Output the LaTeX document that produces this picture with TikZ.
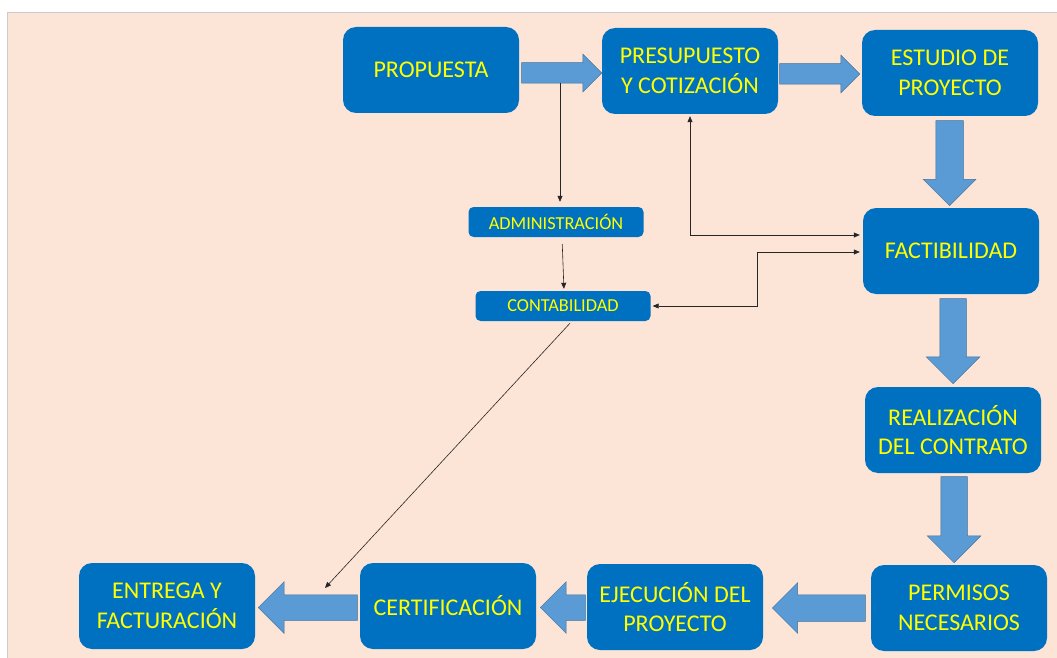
\documentclass[tikz,border=0pt]{standalone}
\usepackage{fontspec}
\setmainfont{Carlito}
\usetikzlibrary{arrows.meta}
\usetikzlibrary{calc}
\usetikzlibrary{shapes.arrows}
\usetikzlibrary{positioning}
\definecolor{fondoPeach}{RGB}{252,228,214}
\definecolor{cajaAzul}{RGB}{0,112,192}
\definecolor{flechaAzul}{RGB}{91,155,213}
\definecolor{flechaBorde}{RGB}{65,113,156}
\definecolor{textoAmarillo}{RGB}{255,255,0}
\tikzset{
  caja/.style = {rounded corners=13pt, fill=cajaAzul, text=textoAmarillo, align=center,
                 minimum width=176pt, minimum height=86pt, inner sep=0pt,
                 font=\fontsize{24}{29.5}\selectfont},
  cajita/.style = {rounded corners=5pt, fill=cajaAzul, text=textoAmarillo, align=center,
                 minimum width=175pt, minimum height=30pt, inner sep=0pt,
                 font=\fontsize{18.3}{22}\selectfont},
  flecha/.style = {single arrow, fill=flechaAzul, draw=flechaBorde, line width=0.5pt,
                 inner xsep=0pt, single arrow tip angle=90, anchor=tip},
  delgada/.style = {line width=0.6pt, draw=black!85,
                 arrows={-Triangle[length=6pt,width=5pt]}},
  doble/.style = {line width=0.6pt, draw=black!85,
                 arrows={Triangle[length=6pt,width=5pt]-Triangle[length=6pt,width=5pt]}}
}

\begin{document}
\begin{tikzpicture}[x=1pt, y=-1pt]

  \useasboundingbox (0,0) rectangle (1057,658);
  \fill[white] (0,0) rectangle (1057,658);
  \draw[fill=fondoPeach, draw=black!20] (7,12) rectangle (1060,661);

  % top row
  \node[caja] (propuesta) at (431,70) {PROPUESTA};
  \node[caja] (presupuesto) at (690,71) {PRESUPUESTO\\Y COTIZACIÓN};
  \node[caja] (estudio) at (950,73) {ESTUDIO DE\\PROYECTO};

  % right column
  \node[caja] (factibilidad) at (951,251) {FACTIBILIDAD};
  \node[caja] (contrato) at (953,430) {REALIZACIÓN\\DEL CONTRATO};
  \node[caja] (permisos) at (959,608) {PERMISOS\\NECESARIOS};

  % bottom row
  \node[caja] (ejecucion) at (675,607) {EJECUCIÓN DEL\\PROYECTO};
  \node[caja] (certificacion) at (448,606) {CERTIFICACIÓN};
  \node[caja] (entrega) at (167,606) {ENTREGA Y\\FACTURACIÓN};

  % middle
  \node[cajita] (administracion) at (556,222) {ADMINISTRACIÓN};
  \node[cajita] (contabilidad) at (563,306) {CONTABILIDAD};

  % block arrows (placed by their tips)
  \node[flecha, minimum height=80pt, inner ysep=10pt, single arrow head extend=8.5pt]
    (f1) at (602,73) {};
  \node[flecha, minimum height=80pt, inner ysep=10pt, single arrow head extend=8.5pt]
    (f2) at (860,74) {};
  \node[flecha, minimum height=85pt, inner ysep=13.5pt, single arrow head extend=12.5pt, rotate=-90]
    (f3) at (949.5,206) {};
  \node[flecha, minimum height=85pt, inner ysep=13pt, single arrow head extend=13.5pt, rotate=-90]
    (f4) at (953,384) {};
  \node[flecha, minimum height=86pt, inner ysep=13pt, single arrow head extend=13.5pt, rotate=-90]
    (f5) at (954,563) {};
  \node[flecha, minimum height=93pt, inner ysep=13pt, single arrow head extend=12pt, rotate=180]
    (f6) at (772,608) {};
  \node[flecha, minimum height=45pt, inner ysep=12.5pt, single arrow head extend=13pt, rotate=180]
    (f7) at (540,607.5) {};
  \node[flecha, minimum height=99pt, inner ysep=12.5pt, single arrow head extend=13pt, rotate=180]
    (f8) at (258,607.5) {};

  % thin connectors
  \coordinate (salida) at (560,83);
  \coordinate (llegada) at (325,588);
  \draw[delgada, shorten >=5pt] (salida) -- (salida |- administracion.north);
  \draw[delgada, shorten <=7pt, shorten >=2pt] ([xshift=6pt]administracion.south) -- ([xshift=1pt]contabilidad.north);
  \draw[doble, shorten <=2pt, shorten >=3pt] (presupuesto.south) |- ([yshift=16pt]factibilidad.west);
  \draw[doble, shorten <=2pt, shorten >=3pt] (contabilidad.east) -- ++(107,0) |- ([yshift=-1pt]factibilidad.west);
  \draw[delgada] ([xshift=7pt,yshift=-2pt]contabilidad.south) -- (llegada);

\end{tikzpicture}
\end{document}
